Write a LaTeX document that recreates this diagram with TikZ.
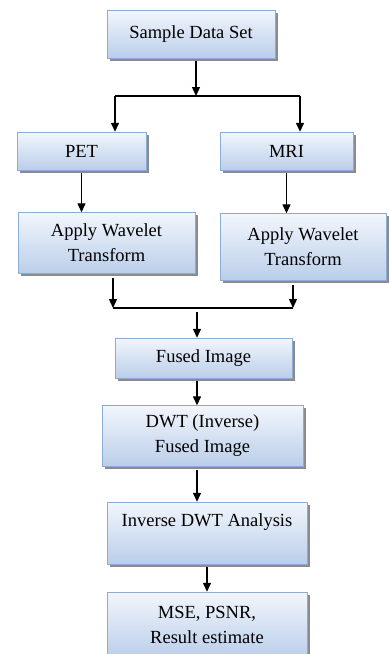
\documentclass[tikz,border=0pt]{standalone}
\usepackage{fontspec}
\setmainfont{Liberation Serif}
\usepackage{tikz}
\usetikzlibrary{positioning,arrows.meta,calc,shadows}
\definecolor{boxtop}{RGB}{242,246,252}
\definecolor{boxbot}{RGB}{186,206,234}
\definecolor{boxline}{RGB}{140,172,212}
\definecolor{shadegray}{RGB}{110,110,110}
\tikzset{
  blk/.style ={draw=boxline, top color=boxtop, bottom color=boxbot, align=center,
               font=\fontsize{18.5}{25}\selectfont, inner sep=2pt,
               drop shadow={shadow xshift=2.5pt, shadow yshift=-2.5pt, fill=shadegray, opacity=0.8}},
  ar/.style  ={-{Triangle[length=9pt,width=8pt]}, draw=black, line width=1.3pt},
  ln/.style  ={draw=black, line width=1.6pt},
}
\begin{document}
\begin{tikzpicture}[x=1pt,y=-1pt]
\useasboundingbox[fill=white] (0,0) rectangle (390,654);

\node[blk,minimum width=168pt,minimum height=48pt] (sds) at (191,34) {Sample Data Set};

\node[blk,minimum width=129pt,minimum height=38pt] (pet) at (81.5,151) {PET};
\node[blk,minimum width=133pt,minimum height=38pt] (mri) at (286.5,151) {MRI};

\node[blk,minimum width=177pt,minimum height=61pt] (awl) at (106.5,243) {Apply Wavelet\\ Transform};
\node[blk,minimum width=166pt,minimum height=67pt] (awr) at (303,247) {Apply Wavelet\\ Transform};

\node[blk,minimum width=177pt,minimum height=40pt] (fus) at (203.5,358) {Fused Image};
\node[blk,minimum width=201pt,minimum height=61pt] (dwt) at (202.5,436) {DWT (Inverse)\\ Fused Image};
\node[blk,minimum width=200pt,minimum height=62pt] (inv) at (207,533) {Inverse DWT Analysis\\ ~};
\node[blk,minimum width=200pt,minimum height=66pt] (mse) at (207,625) {MSE, PSNR,\\ Result estimate};

% split and join lines
\coordinate (spl) at (115,96);
\coordinate (spr) at (300,96);
\coordinate (spm) at (196,96);
\coordinate (jnl) at (113,308);
\coordinate (jnr) at (293,308);
\coordinate (jnm) at (197,312);

\draw[ar] ($(sds.south -| spm)+(0,3)$) -- (spm);
\draw[ln] (spl) -- (spr);
\draw[ar] (spl) -- (spl |- pet.north);
\draw[ar] (spr) -- (spr |- mri.north);
\draw[ar] ($(pet.south)+(0,3)$) -- (pet.south |- awl.north);
\draw[ar] ($(mri.south)+(0,3)$) -- (mri.south |- awr.north);
\draw[ar] ($(awl.south -| jnl)+(0,4)$) -- (jnl);
\draw[ar] ($(awr.south -| jnr)+(0,4)$) -- (jnr);
\draw[ln] (jnl) -- (jnr);
\draw[ar] (jnm) -- (jnm |- fus.north);
\draw[ar] ($(fus.south -| jnm)+(0,3)$) -- (dwt.north -| jnm);
\draw[ar] ($(dwt.south -| jnm)+(0,3)$) -- (inv.north -| jnm);
\draw[ar] ($(inv.south)+(0,3)$) -- (mse.north);
\end{tikzpicture}
\end{document}
